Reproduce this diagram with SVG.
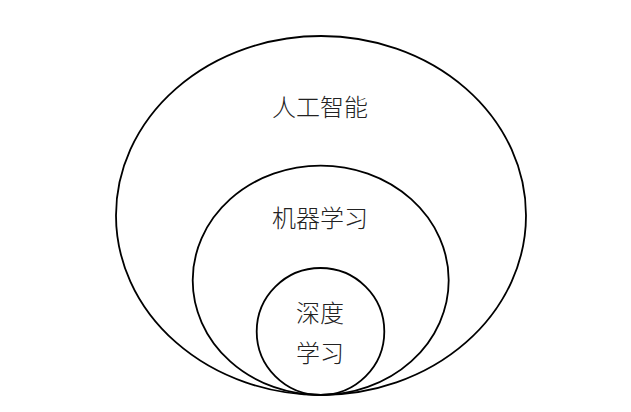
<svg xmlns="http://www.w3.org/2000/svg" width="631" height="412" viewBox="0 0 631 412">
<style>
.c{fill:none;stroke:#000;stroke-width:1.8}
.t{font-family:"Noto Sans CJK SC","Noto Sans",sans-serif;font-size:24px;fill:#222;text-anchor:middle;dominant-baseline:central;font-weight:300}
</style>
<rect width="631" height="412" fill="#fff"/>
<g id="ai">
<ellipse class="c" cx="321" cy="215.5" rx="205" ry="179.5"/>
<text class="t" x="320" y="105">人工智能</text>
</g>
<g id="ml">
<ellipse class="c" cx="320.7" cy="280.3" rx="128" ry="114.7"/>
<text class="t" x="320" y="216">机器学习</text>
</g>
<g id="dl">
<ellipse class="c" cx="320.5" cy="331.5" rx="63.8" ry="63.5"/>
<text class="t" x="320" y="311">深度</text>
<text class="t" x="320" y="351">学习</text>
</g>
<g id="connectors"/>
</svg>
